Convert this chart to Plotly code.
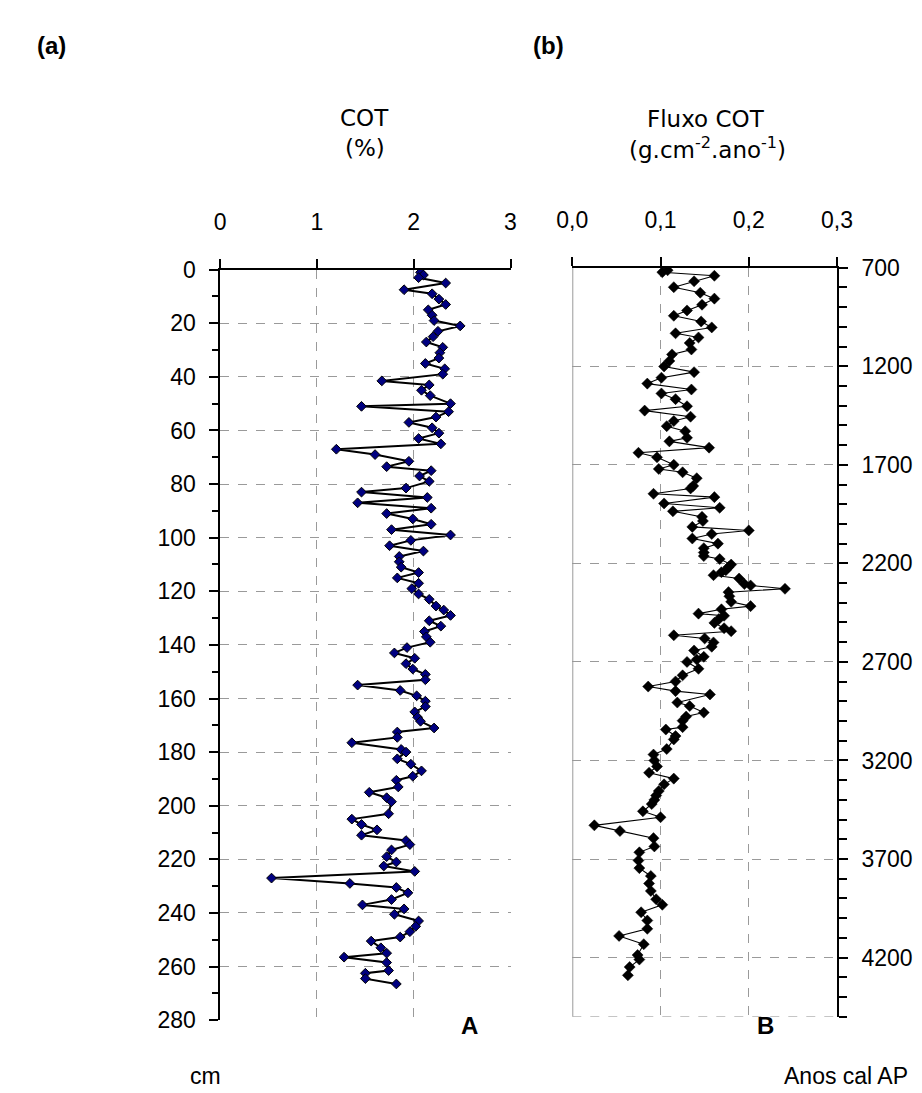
import plotly.graph_objects as go

# ---- Panel A: COT (%) vs depth (cm) ----
depth_cm = [1, 2, 3, 5, 7.5, 9, 11, 13, 15, 17, 19, 21, 23, 25, 27, 29, 31, 33, 35, 37, 39,
            41.5, 43, 45, 47, 50, 51, 53, 55, 57, 59, 61, 63, 65, 67, 69, 71.5, 73.5, 75, 77, 79,
            81.5, 83, 85, 87, 89, 91, 93, 95, 97, 99, 101, 103, 105, 107, 109, 111, 113, 115, 117,
            119, 121, 123, 125.5, 127, 129, 131, 133, 135, 137, 139, 141, 143, 145, 147, 149, 151,
            153, 155, 157, 159, 161, 163, 165, 167, 168.5, 171, 172.5, 174.5, 176.5, 179, 180,
            182.5, 184.5, 187, 189, 190.5, 193, 195, 197, 198.5, 203, 205, 207, 209, 211, 213,
            214.5, 216.5, 219, 221, 222.5, 224.5, 227, 229, 230.5, 232.5, 235, 237, 238.5, 240.5,
            243, 245, 247, 249, 250.5, 253, 255, 256.5, 258.5, 261.5, 262.5, 264.5, 266.5]
cot_pct = [2.07, 2.10, 2.05, 2.33, 1.90, 2.19, 2.26, 2.33, 2.15, 2.19, 2.21, 2.48, 2.25, 2.20,
           2.13, 2.30, 2.27, 2.26, 2.12, 2.32, 2.30, 1.67, 2.16, 2.08, 2.17, 2.38, 1.46, 2.36,
           2.23, 1.95, 2.19, 2.26, 2.05, 2.28, 1.20, 1.60, 1.95, 1.72, 2.18, 2.06, 2.16, 1.92,
           1.46, 2.14, 1.42, 2.18, 1.72, 1.99, 2.18, 1.77, 2.38, 1.97, 1.75, 2.10, 1.85, 1.85,
           1.87, 2.05, 1.83, 2.05, 1.98, 2.05, 2.16, 2.23, 2.31, 2.38, 2.16, 2.28, 2.11, 2.13,
           2.17, 1.93, 1.80, 2.01, 1.92, 1.99, 2.12, 2.12, 1.42, 1.86, 2.03, 2.12, 2.12, 2.01,
           2.04, 2.07, 2.21, 1.83, 1.83, 1.36, 1.87, 1.92, 1.83, 1.97, 2.08, 1.99, 1.82, 1.84,
           1.54, 1.72, 1.77, 1.74, 1.36, 1.46, 1.62, 1.46, 1.92, 1.96, 1.77, 1.72, 1.82, 1.69,
           2.01, 0.53, 1.34, 1.82, 1.94, 1.77, 1.47, 1.90, 1.80, 2.05, 2.02, 1.96, 1.86, 1.56,
           1.66, 1.72, 1.28, 1.72, 1.74, 1.50, 1.50, 1.82]

# ---- Panel B: COT flux vs age (cal yr BP) ----
age_bp = [713, 723, 741, 769, 799, 827, 857, 888, 917, 944, 973, 1003, 1033, 1054, 1082, 1115,
          1140, 1173, 1201, 1230, 1258, 1288, 1318, 1338, 1367, 1403, 1425, 1456, 1478, 1504,
          1530, 1563, 1581, 1613, 1639, 1662, 1700, 1721, 1738, 1768, 1807, 1820, 1847, 1864,
          1896, 1918, 1936, 1964, 1985, 2015, 2033, 2051, 2074, 2100, 2123, 2145, 2163, 2178,
          2206, 2219, 2235, 2245, 2260, 2277, 2305, 2312, 2329, 2346, 2367, 2395, 2417, 2433,
          2455, 2466, 2483, 2502, 2529, 2544, 2565, 2581, 2601, 2623, 2642, 2674, 2688, 2700,
          2735, 2768, 2799, 2825, 2848, 2865, 2906, 2924, 2957, 2977, 2998, 3031, 3043, 3076,
          3093, 3142, 3170, 3200, 3230, 3262, 3292, 3321, 3355, 3378, 3400, 3421, 3458, 3488,
          3529, 3558, 3594, 3636, 3666, 3707, 3746, 3786, 3824, 3862, 3904, 3932, 3970, 4012,
          4054, 4090, 4132, 4187, 4210, 4248, 4290]
flux_cot = [0.108, 0.102, 0.161, 0.138, 0.115, 0.145, 0.161, 0.147, 0.130, 0.115, 0.146, 0.158,
            0.117, 0.143, 0.133, 0.135, 0.113, 0.110, 0.104, 0.138, 0.101, 0.085, 0.135, 0.101,
            0.117, 0.130, 0.082, 0.134, 0.115, 0.107, 0.128, 0.130, 0.110, 0.155, 0.075, 0.096,
            0.115, 0.098, 0.125, 0.141, 0.137, 0.134, 0.092, 0.161, 0.104, 0.167, 0.114, 0.147,
            0.148, 0.136, 0.200, 0.158, 0.136, 0.165, 0.149, 0.149, 0.149, 0.167, 0.180, 0.177,
            0.174, 0.169, 0.160, 0.189, 0.195, 0.202, 0.241, 0.177, 0.178, 0.180, 0.202, 0.169,
            0.143, 0.172, 0.166, 0.161, 0.172, 0.180, 0.115, 0.150, 0.160, 0.158, 0.138, 0.149,
            0.141, 0.130, 0.143, 0.125, 0.117, 0.086, 0.117, 0.156, 0.119, 0.133, 0.149, 0.129,
            0.125, 0.125, 0.106, 0.117, 0.115, 0.107, 0.092, 0.093, 0.096, 0.087, 0.115, 0.104,
            0.098, 0.095, 0.093, 0.090, 0.080, 0.100, 0.025, 0.054, 0.092, 0.093, 0.076, 0.075,
            0.076, 0.089, 0.087, 0.089, 0.095, 0.102, 0.078, 0.085, 0.085, 0.053, 0.081, 0.074,
            0.076, 0.065, 0.063]

W, H = 922, 1093
TICKFONT = dict(family="Arial, Liberation Sans, sans-serif", size=23, color="black")
TITLEFONT = dict(family="DejaVu Sans, Verdana, sans-serif", size=23, color="black")
GRID = "#9a9a9a"


def px(x):
    return x / W


def py(y):
    return 1 - y / H


fig = go.Figure()
fig.add_trace(go.Scatter(
    x=cot_pct, y=depth_cm, mode="lines+markers", xaxis="x", yaxis="y",
    line=dict(color="black", width=2),
    marker=dict(symbol="diamond", size=7.5, color="#000080", line=dict(color="black", width=1)),
    showlegend=False))
fig.add_trace(go.Scatter(
    x=flux_cot, y=age_bp, mode="lines+markers", xaxis="x2", yaxis="y2",
    line=dict(color="black", width=1.1),
    marker=dict(symbol="diamond", size=8.5, color="black", line=dict(color="black", width=0.5)),
    showlegend=False))

common_x = dict(side="top", showline=True, linecolor="black", linewidth=1.5,
                ticks="outside", ticklen=9, tickwidth=1.5, tickcolor="black",
                showgrid=True, gridcolor=GRID, griddash="dash", gridwidth=1,
                zeroline=False, tickfont=TICKFONT, ticklabelstandoff=20, fixedrange=True)

XA = [px(203.3), px(504)]
YA = [py(1023.5), py(254.7)]
XB = [px(568), px(842.3)]
YB = [py(1020), py(252.7)]

fig.update_layout(
    width=W, height=H, autosize=False,
    margin=dict(l=0, r=0, t=0, b=0),
    paper_bgcolor="white", plot_bgcolor="white",
    separators=",.",
    xaxis=dict(domain=XA, range=[0, 3], tick0=0, dtick=1, anchor="y", **common_x),
    yaxis=dict(domain=YA, range=[280, 0], tick0=0, dtick=20,
               anchor="x", side="left", showline=True, linecolor="black", linewidth=1.5,
               ticks="outside", ticklen=9, tickwidth=1.5, tickcolor="black",
               minor=dict(dtick=10, tick0=0, ticks="outside", ticklen=6, tickwidth=1.5,
                          tickcolor="black", showgrid=False),
               showgrid=True, gridcolor=GRID, griddash="dash", gridwidth=1,
               zeroline=False, tickfont=TICKFONT, ticklabelstandoff=9),
    # inner half of the crossing ticks on panel A's top axis
    xaxis3=dict(domain=XA, range=[0, 3], tick0=0, dtick=1, anchor="y", overlaying="x",
                side="top", ticks="inside", ticklen=8, tickwidth=1.5, tickcolor="black",
                showticklabels=False, showgrid=False, showline=False, zeroline=False),
    xaxis2=dict(domain=XB, range=[0, 0.3], tick0=0, dtick=0.1,
                tickformat=".1f", anchor="y2", **common_x),
    yaxis2=dict(domain=YB, range=[4500, 700], tick0=700, dtick=500,
                anchor="x2", side="right", showline=True, linecolor="black", linewidth=1.5,
                ticks="outside", ticklen=9, tickwidth=1.5, tickcolor="black",
                minor=dict(dtick=100, tick0=700, ticks="outside", ticklen=8, tickwidth=1.5,
                           tickcolor="black", showgrid=False),
                showgrid=True, gridcolor=GRID, griddash="dash", gridwidth=1,
                zeroline=False, tickfont=TICKFONT, ticklabelstandoff=9),
    # inner half of the crossing major ticks on panel B's age axis
    yaxis3=dict(domain=YB, range=[4500, 700], tick0=700, dtick=500, anchor="x2",
                overlaying="y2", side="right", ticks="inside", ticklen=8, tickwidth=1.5,
                tickcolor="black", showticklabels=False, showgrid=False, showline=False,
                zeroline=False),
)

# gray left border of panel B and dashed bottom border
fig.add_shape(type="line", xref="x2", yref="y2", x0=0, x1=0, y0=700, y1=4500,
              line=dict(color="#9a9a9a", width=2), layer="below")
fig.add_shape(type="line", xref="x2", yref="y2", x0=0, x1=0.3, y0=4500, y1=4500,
              line=dict(color=GRID, width=1, dash="dash"), layer="below")


def ann(text, x, y, font, bold=False):
    fig.add_annotation(text=f"<b>{text}</b>" if bold else text,
                       x=px(x), y=py(y), xref="paper", yref="paper",
                       xanchor="center", yanchor="middle", showarrow=False, font=font)


BOLD = dict(family="Arial, Liberation Sans, sans-serif", size=24, color="black")
ann("(a)", 29, 25, BOLD, bold=True)
ann("(b)", 543, 25, BOLD, bold=True)
ann("COT", 353, 99, TITLEFONT)
ann("(%)", 353, 130, TITLEFONT)
ann("Fluxo COT", 707, 100, TITLEFONT)
ann("(g.cm<sup>-2</sup>.ano<sup>-1</sup>)", 708, 130, TITLEFONT)
ann("A", 461, 1029, BOLD, bold=True)
ann("B", 768, 1029, BOLD, bold=True)
ann("cm", 188, 1081, TICKFONT)
ann("Anos cal AP", 852, 1081, TICKFONT)

fig.write_html("out.html")
